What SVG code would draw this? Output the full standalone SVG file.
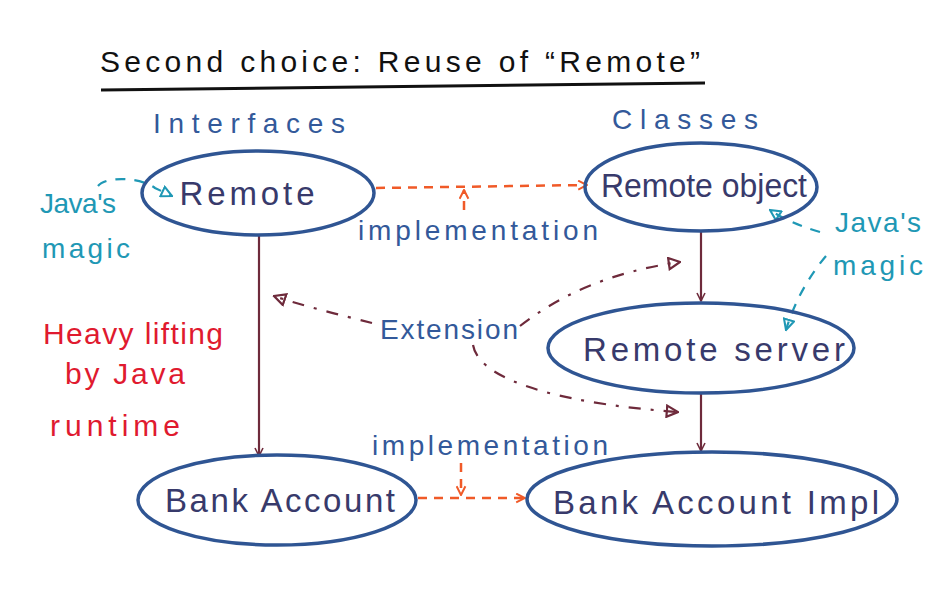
<svg xmlns="http://www.w3.org/2000/svg" width="945" height="603" viewBox="0 0 945 603">
<style>
.node ellipse{fill:none;stroke:#2f5593;stroke-width:3.5}
.nt{font-family:"Liberation Sans",Arial,sans-serif;font-size:33px;fill:#383a6b;text-anchor:middle}
.lbl{font-family:"Liberation Sans",Arial,sans-serif;font-size:28px;fill:#33599a}
.teal{font-family:"Liberation Sans",Arial,sans-serif;font-size:28px;fill:#1f98b5}
.red{font-family:"Liberation Sans",Arial,sans-serif;font-size:30px;fill:#e01a2f}
.solid{fill:none;stroke:#6e2a3b;stroke-width:2.2}
.orange{fill:none;stroke:#f05a28;stroke-width:2.5;stroke-dasharray:9 7}
.ext{fill:none;stroke:#6e2a3b;stroke-width:2.2;stroke-dasharray:12 10 3 10}
.tl{fill:none;stroke:#1f98b5;stroke-width:2.2;stroke-dasharray:10 9}
</style>
<defs>
<marker id="am" viewBox="0 0 10 10" refX="9" refY="5" markerWidth="10" markerHeight="10" markerUnits="userSpaceOnUse" orient="auto"><path d="M1,1 L9,5 L1,9" fill="none" stroke="#6e2a3b" stroke-width="1.6"/></marker>
<marker id="ao" viewBox="0 0 10 10" refX="9" refY="5" markerWidth="11" markerHeight="11" markerUnits="userSpaceOnUse" orient="auto"><path d="M1,1 L9,5 L1,9" fill="none" stroke="#f05a28" stroke-width="1.8"/></marker>
<marker id="ae" viewBox="0 0 10 10" refX="9" refY="5" markerWidth="14" markerHeight="14" markerUnits="userSpaceOnUse" orient="auto"><path d="M1,1 L9,5 L1,9 Z" fill="none" stroke="#6e2a3b" stroke-width="1.6"/></marker>
<marker id="at" viewBox="0 0 10 10" refX="9" refY="5" markerWidth="13" markerHeight="13" markerUnits="userSpaceOnUse" orient="auto"><path d="M1,1 L9,5 L1,9 Z" fill="none" stroke="#1f98b5" stroke-width="1.6"/></marker>
</defs>
<rect width="945" height="603" fill="#ffffff"/>

<g id="title">
<text x="100" y="72" font-family="Liberation Sans, Arial, sans-serif" font-size="30" fill="#111" textLength="600" lengthAdjust="spacing">Second choice: Reuse of “Remote”</text>
<path d="M101,90 L705,83" stroke="#111" stroke-width="3" fill="none"/>
</g>

<g id="headers">
<text class="lbl" x="153" y="133" font-size="32" textLength="192" lengthAdjust="spacing">Interfaces</text>
<text class="lbl" x="612" y="129" font-size="32" textLength="146" lengthAdjust="spacing">Classes</text>
</g>

<g id="connectors">
<path class="solid" d="M259,236 L259,456" marker-end="url(#am)"/>
<path class="solid" d="M701,232 L701,301" marker-end="url(#am)"/>
<path class="solid" d="M701,394 L701,451" marker-end="url(#am)"/>
<path class="orange" d="M376,188 L587,185" marker-end="url(#ao)"/>
<path class="orange" d="M464,210 L464,190" marker-end="url(#ao)"/>
<path class="orange" d="M418,498 L525,498" marker-end="url(#ao)"/>
<path class="orange" d="M461,463 L461,495" marker-end="url(#ao)"/>
<path class="ext" d="M372,323 C340,315 300,305 274,296" marker-end="url(#ae)"/>
<path class="ext" d="M520,326 C560,295 610,272 680,262" marker-end="url(#ae)"/>
<path class="ext" d="M473,345 C480,385 580,405 678,412" marker-end="url(#ae)"/>
<path class="tl" d="M98,186 C106,176 140,177 155,188 L172,196" marker-end="url(#at)"/>
<path class="tl" d="M820,232 C800,226 785,220 770,210" marker-end="url(#at)"/>
<path class="tl" d="M826,256 C810,275 795,300 786,330" marker-end="url(#at)"/>
</g>

<g id="remote" class="node">
<ellipse cx="258" cy="193" rx="116" ry="42"/>
<text class="nt" x="247" y="205" textLength="135" lengthAdjust="spacing">Remote</text>
</g>
<g id="remote-object" class="node">
<ellipse cx="701" cy="187" rx="116" ry="44"/>
<text class="nt" x="704" y="197" font-size="31" textLength="206" lengthAdjust="spacingAndGlyphs">Remote object</text>
</g>
<g id="remote-server" class="node">
<ellipse cx="701" cy="348" rx="153" ry="45"/>
<text class="nt" x="714" y="361" textLength="262" lengthAdjust="spacing">Remote server</text>
</g>
<g id="bank-account" class="node">
<ellipse cx="277" cy="500" rx="139" ry="45"/>
<text class="nt" x="280" y="512" textLength="230" lengthAdjust="spacing">Bank Account</text>
</g>
<g id="bank-account-impl" class="node">
<ellipse cx="712" cy="499" rx="185" ry="47"/>
<text class="nt" x="716" y="514" textLength="326" lengthAdjust="spacing">Bank Account Impl</text>
</g>

<g id="labels">
<text class="lbl" x="358" y="240" textLength="240" lengthAdjust="spacing">implementation</text>
<text class="lbl" x="372" y="455" textLength="236" lengthAdjust="spacing">implementation</text>
<text class="lbl" x="380" y="339" font-size="26" textLength="138" lengthAdjust="spacing">Extension</text>
</g>

<g id="java-magic-left">
<text class="teal" x="40" y="213" textLength="76" lengthAdjust="spacing">Java's</text>
<text class="teal" x="42" y="258" textLength="88" lengthAdjust="spacing">magic</text>
</g>
<g id="java-magic-right">
<text class="teal" x="835" y="232" textLength="86" lengthAdjust="spacing">Java's</text>
<text class="teal" x="833" y="275" textLength="90" lengthAdjust="spacing">magic</text>
</g>
<g id="heavy-lifting">
<text class="red" x="43" y="344" textLength="180" lengthAdjust="spacing">Heavy lifting</text>
<text class="red" x="65" y="384" textLength="120" lengthAdjust="spacing">by Java</text>
<text class="red" x="50" y="436" textLength="130" lengthAdjust="spacing">runtime</text>
</g>
</svg>
